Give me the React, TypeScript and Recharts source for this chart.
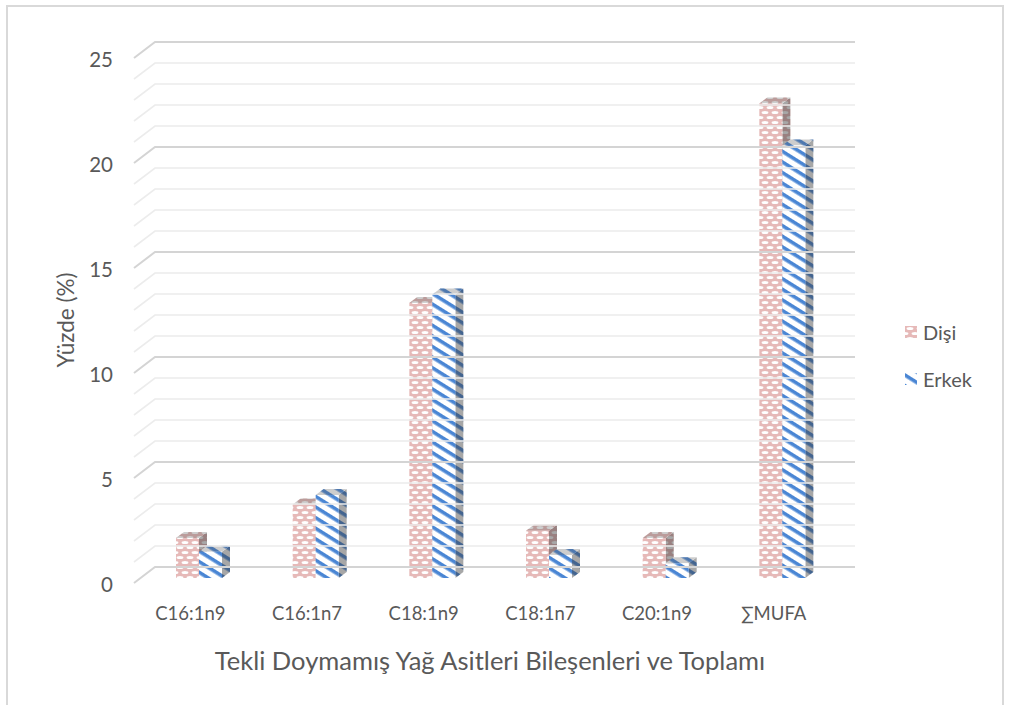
import React from 'react';
import { BarChart, Bar, XAxis, YAxis, ReferenceLine, Label } from 'recharts';

// DATA
const categories = ['C16:1n9', 'C16:1n7', 'C18:1n9', 'C18:1n7', 'C20:1n9', '∑MUFA'];
const disiValues = [1.9, 3.5, 13.1, 2.25, 1.9, 22.6];
const erkekValues = [1.25, 3.95, 13.5, 1.1, 0.7, 20.6];
const seriesNames = ['Dişi', 'Erkek'];
const yTicks = [0, 5, 10, 15, 20, 25];
const gridValues = [0, 1, 2, 3, 4, 5, 6, 7, 8, 9, 10, 11, 12, 13, 14, 15, 16, 17, 18, 19, 20, 21, 22, 23, 24, 25];
const xTitle = 'Tekli Doymamış Yağ Asitleri Bileşenleri ve Toplamı';
const yTitle = 'Yüzde (%)';

const chartData = categories.map((name, i) => ({ name, disi: disiValues[i], erkek: erkekValues[i] }));

const FONT = 'Lato, "Open Sans", sans-serif';
const TEXT = '#595959';
// 3D offsets: back wall / front floor relative to bar plane
const BACK_DX = 14;
const BACK_DY = -11;
const FRONT_DX = -6;
const FRONT_DY = 5;
// bar depth
const DEPTH_DX = 8;
const DEPTH_DY = -6;

// gridline on the back wall with a diagonal to the front
const gridShape = (major: boolean) => (props: any) => {
    const { x1, x2, y1 } = props;
    const fx = x1 + FRONT_DX - 1;
    const fy = y1 + FRONT_DY;
    const bx = x1 + BACK_DX;
    const by = y1 + BACK_DY;
    return (
        <path
            d={`M${fx},${fy} L${bx},${by} L${x2 + BACK_DX},${by}`}
            fill="none"
            stroke={major ? '#d4d4d4' : '#ececec'}
            strokeWidth={major ? 2 : 1.6}
        />
    );
};

const boxShape = (patternId: string) => (props: any) => {
    const { x, y, width, height } = props;
    if (!height || height <= 0) return <g />;
    const side = `M${x + width},${y} L${x + width + DEPTH_DX},${y + DEPTH_DY} L${x + width + DEPTH_DX},${y + height + DEPTH_DY} L${x + width},${y + height} Z`;
    const top = `M${x},${y} L${x + DEPTH_DX},${y + DEPTH_DY} L${x + width + DEPTH_DX},${y + DEPTH_DY} L${x + width},${y} Z`;
    return (
        <g>
            <path d={side} fill={`url(#${patternId})`} />
            <path d={side} fill="rgba(60,60,60,0.45)" />
            <path d={top} fill={`url(#${patternId})`} />
            <path d={top} fill="rgba(90,90,90,0.3)" />
            <rect x={x} y={y} width={width} height={height} fill={`url(#${patternId})`} />
        </g>
    );
};

const YTick = (props: any) => {
    const { y, payload } = props;
    return (
        <text x={113} y={y + FRONT_DY + 1} textAnchor="end" dominantBaseline="central" fill={TEXT} fontSize={20.5} fontFamily={FONT}>
            {payload.value}
        </text>
    );
};

const XTick = (props: any) => {
    const { x, payload } = props;
    return (
        <text x={x - 9} y={613} textAnchor="middle" dominantBaseline="central" fill={TEXT} fontSize={18.5} fontFamily={FONT}>
            {payload.value}
        </text>
    );
};

const Patterns = () => (
    <defs>
        <pattern id="patDisi" patternUnits="userSpaceOnUse" width="10" height="10">
            <rect width="10" height="10" fill="#e6b9b8" />
            <ellipse cx="5" cy="2.5" rx="3.4" ry="1.5" fill="#ffffff" />
            <ellipse cx="0" cy="7.5" rx="3.4" ry="1.5" fill="#ffffff" />
            <ellipse cx="10" cy="7.5" rx="3.4" ry="1.5" fill="#ffffff" />
        </pattern>
        <pattern id="patErkek" patternUnits="userSpaceOnUse" width="9" height="9" patternTransform="rotate(32)">
            <rect width="9" height="9" fill="#ffffff" />
            <rect y="0" width="9" height="3.6" fill="#4a86d4" />
        </pattern>
    </defs>
);

const App: React.FC = () => {
    return (
        <div style={{ position: 'absolute', left: 0, top: 0, width: 1010, height: 705, background: '#fff', overflow: 'hidden' }}>
            <div style={{ position: 'absolute', left: 6, top: 5, width: 998, height: 720, border: '2px solid #d9d9d9', boxSizing: 'border-box' }} />
            <div style={{ position: 'absolute', left: 0, top: 0 }}>
                <BarChart
                    width={1010}
                    height={705}
                    data={chartData}
                    margin={{ top: 53, right: 169, left: 0, bottom: 0 }}
                    barCategoryGap="30%"
                    barGap={0}
                >
                    <Patterns />
                    <XAxis dataKey="name" height={127} axisLine={false} tickLine={false} tick={<XTick />} interval={0}>
                        <Label
                            content={() => (
                                <text x={490} y={660} textAnchor="middle" dominantBaseline="central" fill={TEXT} fontSize={25.5} fontFamily={FONT}>
                                    {xTitle}
                                </text>
                            )}
                        />
                    </XAxis>
                    <YAxis type="number" domain={[0, 25]} ticks={yTicks} width={141} axisLine={false} tickLine={false} tick={<YTick />}>
                        <Label
                            content={() => (
                                <text x={65} y={320} transform="rotate(-90 65 320)" textAnchor="middle" dominantBaseline="central" fill={TEXT} fontSize={22.5} fontFamily={FONT}>
                                    {yTitle}
                                </text>
                            )}
                        />
                    </YAxis>
                    {gridValues.map((v) => (
                        <ReferenceLine key={v} y={v} shape={gridShape(v % 5 === 0)} />
                    ))}
                    <Bar dataKey="disi" name={seriesNames[0]} shape={boxShape('patDisi')} isAnimationActive={false} />
                    <Bar dataKey="erkek" name={seriesNames[1]} shape={boxShape('patErkek')} isAnimationActive={false} />
                </BarChart>
            </div>
            {/* legend */}
            <div style={{ position: 'absolute', left: 905, top: 320, fontFamily: FONT, fontSize: 20, color: TEXT, lineHeight: '24px' }}>
                {seriesNames.map((n, i) => (
                    <div key={n} style={{ display: 'flex', alignItems: 'center', marginBottom: i === 0 ? 23 : 0 }}>
                        <svg width={12} height={12} style={{ marginRight: 6 }}>
                            <rect width={12} height={12} fill={i === 0 ? 'url(#patDisi)' : 'url(#patErkek)'} />
                        </svg>
                        <span>{n}</span>
                    </div>
                ))}
            </div>
        </div>
    );
};

export default App;
